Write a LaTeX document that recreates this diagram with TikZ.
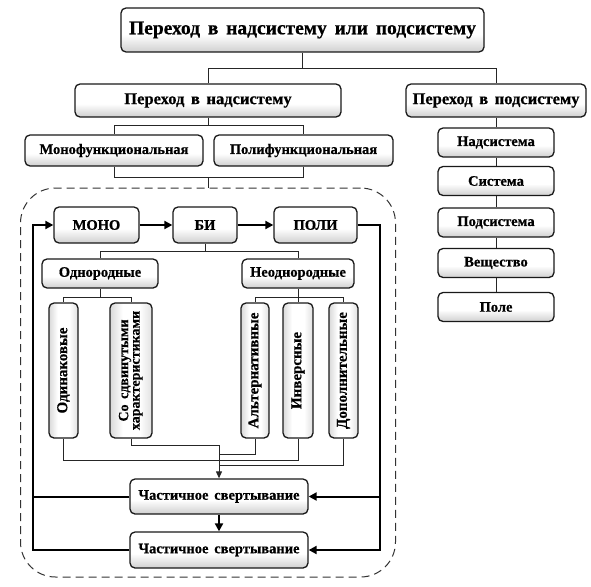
\documentclass[tikz,border=0pt]{standalone}
\usepackage{fontspec}
\usepackage{graphicx}
\setmainfont{Liberation Serif}[WordSpace=1.6, BoldFeatures={FakeBold=0.6}]
\usetikzlibrary{arrows.meta}
\pgfdeclareverticalshading{boxshade}{100bp}{color(0bp)=(black!42); color(45bp)=(white); color(75bp)=(white); color(100bp)=(black!14)}
\pgfdeclarehorizontalshading{vboxshade}{100bp}{color(0bp)=(black!40); color(40bp)=(white); color(60bp)=(white); color(100bp)=(black!32)}
\begin{document}
\begin{tikzpicture}[x=1pt,y=-1pt,
  gbox/.style={draw=black!90, line width=1.3pt, rounded corners=5pt, shading=boxshade,
    inner sep=0pt, align=center, font=\bfseries\fontsize{14.5}{16}\selectfont},
  vbox/.style={draw=black!90, line width=1.3pt, rounded corners=5pt, shading=vboxshade,
    inner sep=0pt, minimum height=135pt, font=\bfseries\fontsize{15}{15.5}\selectfont},
  conn/.style={draw=black!85, line width=1pt},
  loopline/.style={draw=black, line width=2pt},
  thickarr/.style={draw=black, line width=2.5pt, -{Triangle[length=8pt,width=8pt]}},
  arrhead/.style={-{Triangle[length=8pt,width=8pt]}},
  framebox/.style={draw=black!80, line width=1pt, dash pattern=on 8pt off 5pt, rounded corners=35pt}
]
\useasboundingbox (0,0) rectangle (591,586);

% top levels
\node[gbox, font=\bfseries\fontsize{19.5}{21}\selectfont, minimum width=363pt, minimum height=44pt] (top) at (302.5,30) {Переход в надсистему или подсистему};
\node[gbox, font=\bfseries\fontsize{16.5}{18}\selectfont, minimum width=266pt, minimum height=33pt] (nad) at (208,100.5) {Переход в надсистему};
\node[gbox, font=\bfseries\fontsize{16.5}{18}\selectfont, minimum width=180pt, minimum height=33pt] (pod) at (496,100.5) {Переход в подсистему};
\node[gbox, minimum width=178pt, minimum height=31pt] (monof) at (114,150.5) {Монофункциональная};
\node[gbox, minimum width=179pt, minimum height=31pt] (polyf) at (303.5,150.5) {Полифункциональная};

% right column
\node[gbox, minimum width=116pt, minimum height=29pt] (r1) at (496,142.5) {Надсистема};
\node[gbox, minimum width=116pt, minimum height=29pt] (r2) at (496,181) {Система};
\node[gbox, minimum width=116pt, minimum height=29pt] (r3) at (496,222.5) {Подсистема};
\node[gbox, minimum width=116pt, minimum height=29pt] (r4) at (496,263) {Вещество};
\node[gbox, minimum width=116pt, minimum height=29pt] (r5) at (496,307) {Поле};

% dashed frame
\node[framebox, minimum width=375pt, minimum height=389pt] (frame) at (208,382.5) {};

% inner
\node[gbox, minimum width=85pt, minimum height=36pt] (mono) at (96.5,225) {МОНО};
\node[gbox, minimum width=64pt, minimum height=36pt] (bi) at (205,225) {БИ};
\node[gbox, minimum width=83pt, minimum height=36pt] (poli) at (315.5,225) {ПОЛИ};
\node[gbox, minimum width=116pt, minimum height=29pt] (odn) at (100,273.5) {Однородные};
\node[gbox, minimum width=112pt, minimum height=29pt] (neodn) at (298,273.5) {Неоднородные};

\node[vbox, minimum width=29pt] (odin) at (63.5,370.5) {\rotatebox{90}{Одинаковые}};
\node[vbox, minimum width=42pt, font=\bfseries\fontsize{14}{14.5}\selectfont] (sdv) at (131,370.5) {\rotatebox{90}{\begin{tabular}{@{}c@{}}Со сдвинутыми\\[-3pt]характеристиками\end{tabular}}};
\node[vbox, minimum width=28pt] (alt) at (255,370.5) {\rotatebox{90}{Альтернативные}};
\node[vbox, minimum width=30pt] (inv) at (298,370.5) {\rotatebox{90}{Инверсные}};
\node[vbox, minimum width=29pt] (dop) at (343.5,370.5) {\rotatebox{90}{Дополнительные}};

\node[gbox, minimum width=178pt, minimum height=35pt] (cs1) at (219,496.5) {Частичное\hspace{0.4em}свертывание};
\node[gbox, minimum width=178pt, minimum height=36pt] (cs2) at (219,550) {Частичное\hspace{0.4em}свертывание};

% connectors top
\coordinate (j1) at (302.5,68);
\draw[conn] (top.south) -- (j1) -| (nad.north);
\draw[conn] (j1) -| (pod.north);
\coordinate (j2) at (208,125);
\draw[conn] (nad.south) -- (j2) -| (monof.north);
\draw[conn] (j2) -| (polyf.north);
\coordinate (j3) at (208,177);
\draw[conn] (monof.south) |- (j3);
\draw[conn] (polyf.south) |- (j3);
\draw[conn] (j3) -- (frame.north);

% right column connectors
\draw[conn] (pod.south) -- (r1.north);
\draw[conn] (r1.south) -- (r2.north);
\draw[conn] (r2.south) -- (r3.north);
\draw[conn] (r3.south) -- (r4.north);
\draw[conn] (r4.south) -- (r5.north);

% main chain
\draw[thickarr] (mono.east) -- (bi.west);
\draw[thickarr] (bi.east) -- (poli.west);

% tree under BI
\coordinate (j4) at (205,251);
\draw[conn] (bi.south) -- (j4) -| (odn.north);
\draw[conn] (j4) -| (neodn.north);
\coordinate (j5) at (100,297);
\draw[conn] (odn.south) -- (j5) -| (odin.north);
\draw[conn] (j5) -| (sdv.north);
\coordinate (j6) at (298,297);
\draw[conn] (neodn.south) -- (j6) -| (alt.north);
\draw[conn] (j6) -| (dop.north);
\draw[conn] (j6) -- (inv.north);

% gathering lines
\coordinate (t0) at (219,445);
\coordinate (t1) at (219,454);
\coordinate (t2) at (219,460);
\coordinate (t3) at (219,465);
\draw[conn] (sdv.south) |- (t0);
\draw[conn] (alt.south) |- (t1);
\draw[conn] (odin.south) |- (t2);
\draw[conn] (inv.south) |- (t2);
\draw[conn] (dop.south) |- (t3);
\draw[conn, -{Triangle[length=7pt,width=6pt]}] (t0) -- (cs1.north);

% loops
\coordinate (lc) at (33,225);
\coordinate (rc) at (380,550);
\draw[loopline, arrhead] (cs2.west) -| (lc) -- (mono.west);
\draw[loopline] (cs1.west) -- (cs1.west -| lc);
\draw[loopline, arrhead] (poli.east) -| (rc) -- (cs2.east);
\draw[loopline, arrhead] (cs1.east -| rc) -- (cs1.east);
\draw[thickarr] (cs1.south) -- (cs2.north);
\end{tikzpicture}
\end{document}
